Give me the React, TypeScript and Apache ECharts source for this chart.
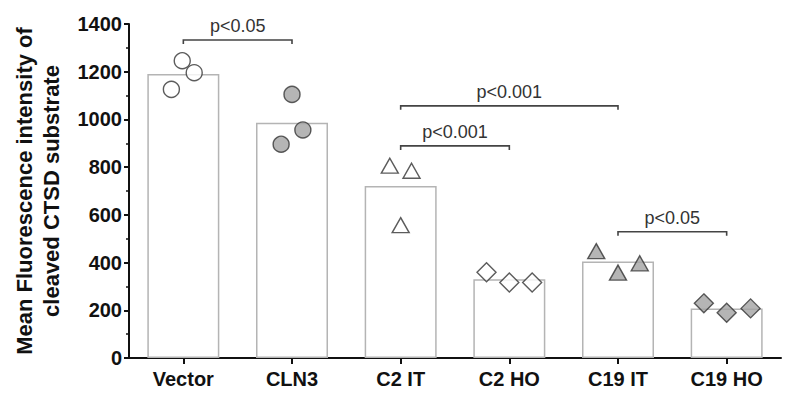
import React, { useEffect, useRef } from "react";
import * as echarts from "echarts";

const categories = ["Vector", "CLN3", "C2 IT", "C2 HO", "C19 IT", "C19 HO"];
const barMeans = [1190, 986, 721, 330, 404, 208];

const vectorPts = [1126, 1246, 1196];
const cln3Pts = [896, 1105, 956];
const c2itPts = [806, 557, 785];
const c2hoPts = [359, 316, 316];
const c19itPts = [448, 358, 397];
const c19hoPts = [229, 190, 208];

// horizontal jitter within each category (layout only)
const jitterNarrow = [-0.11, -0.01, 0.1];
const jitterNarrow2 = [-0.1, 0, 0.1];
const jitterWide = [-0.21, 0, 0.21];

const brackets = [
  { from: 0, to: 1, y: 1333, text: "p<0.05" },
  { from: 2, to: 4, y: 1057, text: "p<0.001" },
  { from: 2, to: 3, y: 889, text: "p<0.001" },
  { from: 4, to: 5, y: 529, text: "p<0.05" },
];

const FONT = "'Liberation Sans', Arial, Helvetica, sans-serif";
const GRAY = "#a3a3a3";

export default function App() {
  const ref = useRef<HTMLDivElement>(null);
  useEffect(() => {
    if (!ref.current) return;
    const chart = echarts.init(ref.current, undefined, { renderer: "svg" });

    const groups = [
      { pts: vectorPts, jit: jitterNarrow, symbol: "circle", size: 16, fill: "#ffffff" },
      { pts: cln3Pts, jit: jitterNarrow2, symbol: "circle", size: 16, fill: GRAY },
      { pts: c2itPts, jit: jitterNarrow2, symbol: "triangle", size: [17, 15], fill: "#ffffff" },
      { pts: c2hoPts, jit: jitterWide, symbol: "diamond", size: [19, 19], fill: "#ffffff" },
      { pts: c19itPts, jit: [-0.2, 0, 0.2], symbol: "triangle", size: [17, 15], fill: GRAY },
      { pts: c19hoPts, jit: [-0.21, 0, 0.22], symbol: "diamond", size: [19, 19], fill: GRAY },
    ];

    const scatterSeries = groups.map((g, i) => ({
      type: "scatter",
      xAxisIndex: 1,
      yAxisIndex: 0,
      symbol: g.symbol,
      symbolSize: g.size,
      z: 5,
      itemStyle: { color: g.fill, borderColor: "#333333", borderWidth: 1.4 },
      data: g.pts.map((v, k) => [i + g.jit[k], v]),
    }));

    chart.setOption({
      animation: false,
      backgroundColor: "#ffffff",
      grid: { left: 129, right: 19, top: 24, bottom: 46, containLabel: false },
      xAxis: [
        {
          type: "category",
          data: categories,
          boundaryGap: true,
          axisLine: { show: true, onZero: false, lineStyle: { color: "#111111", width: 2 } },
          axisTick: { show: true, alignWithLabel: true, length: 6, lineStyle: { color: "#111111", width: 2 } },
          axisLabel: {
            color: "#111111",
            fontFamily: FONT,
            fontWeight: "bold",
            fontSize: 20,
            margin: 11,
          },
          splitLine: { show: false },
        },
        {
          type: "value",
          min: -0.5,
          max: 5.5,
          show: false,
        },
      ],
      yAxis: {
        type: "value",
        min: 0,
        max: 1400,
        interval: 200,
        axisLine: { show: true, onZero: false, lineStyle: { color: "#111111", width: 2 } },
        axisTick: { show: true, length: 5, lineStyle: { color: "#111111", width: 2 } },
        minorTick: { show: true, splitNumber: 2, length: 3, lineStyle: { color: "#111111", width: 1.5 } },
        axisLabel: {
          color: "#111111",
          fontFamily: FONT,
          fontWeight: "bold",
          fontSize: 20,
          margin: 7,
          formatter: (v: number) => String(v),
        },
        splitLine: { show: false },
      },
      graphic: [
        {
          type: "text",
          x: 38,
          y: 191,
          rotation: Math.PI / 2,
          style: {
            text: "Mean Fluorescence intensity of\ncleaved CTSD substrate",
            font: `bold 22px ${FONT}`,
            fill: "#111111",
            align: "center",
            verticalAlign: "middle",
            lineHeight: 27,
          },
        },
      ],
      series: [
        {
          type: "bar",
          data: barMeans,
          barWidth: 72,
          z: 2,
          itemStyle: { color: "#ffffff", borderColor: "#b4b4b4", borderWidth: 1.5 },
        },
        ...scatterSeries,
        {
          type: "custom",
          xAxisIndex: 0,
          yAxisIndex: 0,
          z: 6,
          clip: false,
          data: brackets.map((b) => [b.from, b.to, b.y]),
          renderItem: (params: any, api: any) => {
            const b = brackets[params.dataIndex];
            const p1 = api.coord([api.value(0), api.value(2)]);
            const p2 = api.coord([api.value(1), api.value(2)]);
            const tick = 4;
            return {
              type: "group",
              children: [
                {
                  type: "polyline",
                  shape: {
                    points: [
                      [p1[0], p1[1] + tick],
                      [p1[0], p1[1]],
                      [p2[0], p2[1]],
                      [p2[0], p2[1] + tick],
                    ],
                  },
                  style: { stroke: "#444444", lineWidth: 1.6, fill: "none" },
                },
                {
                  type: "text",
                  x: (p1[0] + p2[0]) / 2,
                  y: p1[1] - 14,
                  style: {
                    text: b.text,
                    font: `18px ${FONT}`,
                    fill: "#333333",
                    align: "center",
                    verticalAlign: "middle",
                  },
                },
              ],
            };
          },
        },
      ],
    });
    return () => chart.dispose();
  }, []);
  return <div ref={ref} style={{ width: 800, height: 404, position: "absolute", left: 0, top: 0 }} />;
}
